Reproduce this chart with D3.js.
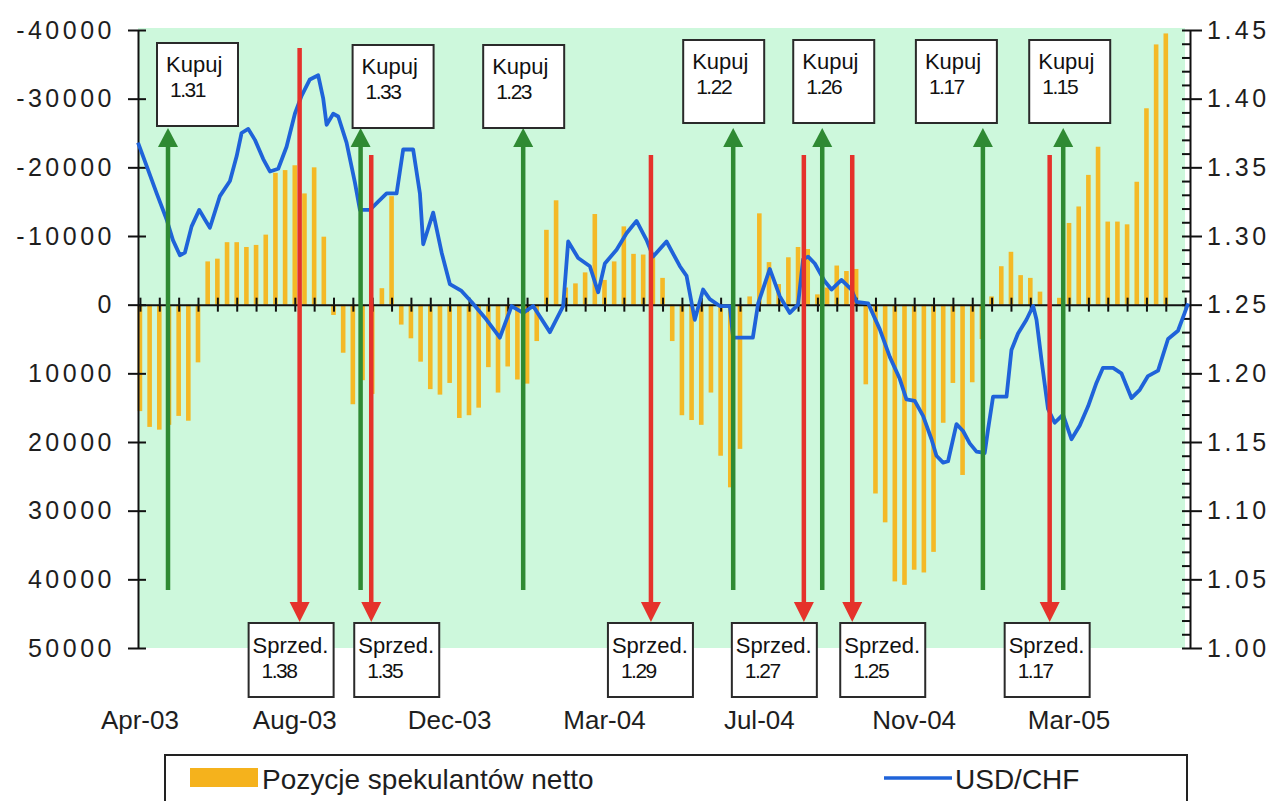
<!DOCTYPE html>
<html><head><meta charset="utf-8">
<script src="https://cdn.jsdelivr.net/npm/d3@7"></script>
<style>
body{margin:0;background:#fff}
svg{display:block}
text{font-family:"Liberation Sans",Arial,sans-serif}
</style>
</head><body>
<svg id="chart" width="1281" height="801"></svg>
<script>
// ---------------- DATA ----------------
// weekly COT report dates (Tuesdays) starting 29 Apr 2003
const categories = d3.range(107).map(i => d3.timeWeek.offset(new Date(2003, 3, 29), i));

// net speculative positions (left axis, inverted)
const netPositions = [
  15500,17800,18200,17500,16200,16900,8400,-6300,-6700,-9100,
  -9100,-8400,-8700,-10200,-19200,-19600,-20300,-16200,-20000,-9900,
  1500,7000,14500,11000,13000,-2400,-15800,2900,4900,8300,
  12300,13100,11400,16500,16100,15000,9100,12800,9000,10900,
  11500,5300,-10900,-15200,-2500,-3100,-4700,-13200,-3600,-6300,
  -11400,-7400,-7300,-7000,-3900,5300,16100,16800,17500,12800,
  22000,26600,21000,-1200,-13300,-6200,-3000,-6900,-8400,-8100,
  -1500,-2500,-5700,-4900,-5200,11600,27500,31700,40300,40800,
  38600,39000,36000,17200,11400,24800,11300,5000,-1200,-5600,
  -7700,-4300,-3900,-1900,0,-1000,-11900,-14300,-18900,-23000,
  -12100,-12100,-11700,-17900,-28600,-37900,-39500
];

// USD/CHF rate (right axis): position in weeks and value
const usdchfWeek = [
  -0.2,0.69,1.73,2.76,3.41,4.13,4.65,5.34,6.13,6.71,
  7.23,8.26,9.3,9.99,10.5,11.19,11.88,12.74,13.43,14.29,
  15.15,16.01,16.7,17.56,18.42,18.94,19.29,19.97,20.49,21.35,
  22.21,22.73,23.76,24.62,25.49,26.52,27.2,28.23,28.93,29.27,
  30.3,31.17,32.02,33.23,34.27,35.82,37.19,38.4,39.6,40.63,
  42.36,43.73,44.25,45.28,46.49,47.35,48.04,49.25,50.28,51.31,
  52.35,53.03,54.41,55.79,56.48,57.33,58.19,58.88,59.92,60.95,
  61.29,63.33,63.88,65.08,66.12,67.15,68.0,68.52,69.04,69.73,
  70.76,71.46,72.49,73.52,74.04,75.24,76.45,77.48,78.51,79.2,
  80.06,80.92,81.79,82.3,82.99,83.5,84.37,85.05,85.74,86.44,
  87.29,87.63,88.15,89.54,90.05,90.73,91.6,92.29,92.64,93.15,
  93.83,94.52,95.38,96.25,97.11,97.97,98.83,99.51,100.55,101.41,
  102.45,103.31,104.16,105.2,106.23,107.26,107.95,108.3
];
const usdchfRate = [
  1.368,1.351,1.331,1.312,1.297,1.286,1.288,1.307,1.319,1.312,
  1.306,1.329,1.340,1.358,1.375,1.378,1.370,1.356,1.347,1.349,
  1.365,1.389,1.402,1.414,1.417,1.400,1.381,1.389,1.387,1.368,
  1.339,1.319,1.319,1.325,1.331,1.331,1.363,1.363,1.331,1.294,
  1.317,1.288,1.265,1.260,1.252,1.239,1.226,1.249,1.244,1.249,
  1.230,1.249,1.296,1.284,1.278,1.259,1.280,1.290,1.302,1.311,
  1.297,1.285,1.296,1.278,1.271,1.239,1.261,1.254,1.249,1.249,
  1.226,1.226,1.251,1.276,1.256,1.244,1.250,1.283,1.285,1.280,
  1.267,1.261,1.268,1.261,1.252,1.251,1.232,1.212,1.196,1.181,
  1.180,1.169,1.152,1.140,1.135,1.136,1.163,1.158,1.149,1.143,
  1.142,1.159,1.183,1.183,1.217,1.229,1.239,1.249,1.239,1.210,
  1.174,1.164,1.170,1.152,1.162,1.176,1.193,1.204,1.204,1.200,
  1.182,1.188,1.198,1.202,1.225,1.231,1.244,1.251
];

// axis ticks
const leftTicks = [-40000,-30000,-20000,-10000,0,10000,20000,30000,40000,50000];
const rightTicks = [1.45,1.40,1.35,1.30,1.25,1.20,1.15,1.10,1.05,1.00];
const xTickLabels = ["Apr-03","Aug-03","Dec-03","Mar-04","Jul-04","Nov-04","Mar-05"];
const xTickLabelWeeks = [0,16,32,48,64,80,96];

// buy / sell signals (week position, price)
const buyWeeks = [2.9,22.8,39.6,61.3,70.5,87.1,95.4];
const buyPrices = ["1.31","1.33","1.23","1.22","1.26","1.17","1.15"];
const sellWeeks = [16.5,23.9,52.8,68.6,73.6,94.0];
const sellPrices = ["1.38","1.35","1.29","1.27","1.25","1.17"];

const seriesNames = ["Pozycje spekulantów netto","USD/CHF"];

// ---------------- LAYOUT ----------------
const buyBoxDx = [-11,-8,-40,-50,-29,-67,-34];
const buyBoxTop = [43,45,45,40,40,40,40];
const sellBoxDx = [-51,-17,-43,-72,-12,-45];
const sellTop = [48,155,155,155,155,155];

const svg = d3.select("#chart");
const W = 1281, H = 801;
svg.append("rect").attr("width", W).attr("height", H).attr("fill", "#fff");

const x = d3.scaleLinear().domain([-0.2, 108.5]).range([138, 1190]);
const yL = d3.scaleLinear().domain([-40000, 50000]).range([30, 648]);
const yR = d3.scaleLinear().domain([1.45, 1.00]).range([30, 648]);

// plot background
svg.append("rect").attr("x", 138).attr("y", 28).attr("width", 1047).attr("height", 620)
  .attr("fill", "#cdf8dc");

// bars
svg.append("g").selectAll("rect").data(netPositions).join("rect")
  .attr("x", (d, i) => x(i) - 2.3)
  .attr("width", 4.6)
  .attr("y", d => Math.min(yL(0), yL(d)))
  .attr("height", d => Math.abs(yL(d) - yL(0)))
  .attr("fill", "#f4b926");

// axes
const axisFont = g => g.selectAll("text")
  .attr("font-family", "'Liberation Sans', Arial, sans-serif")
  .attr("font-size", 25).attr("fill", "#1e1e1e").style("letter-spacing", "3.5px");

svg.append("g").attr("transform", "translate(138,0)")
  .call(d3.axisLeft(yL).tickValues(leftTicks).tickSize(10).tickPadding(13)
    .tickSizeOuter(0).tickFormat(d => String(d)))
  .call(axisFont);
svg.append("g").attr("transform", "translate(138,0)")
  .call(d3.axisRight(yL).tickValues(leftTicks).tickSize(8).tickSizeOuter(0).tickFormat(""))
  .call(g => g.select(".domain").remove());

svg.append("g").attr("transform", "translate(1190,0)")
  .call(d3.axisRight(yR).tickValues(rightTicks).tickSize(12).tickPadding(5)
    .tickSizeOuter(0).tickFormat(d3.format(".2f")))
  .call(axisFont);
svg.append("g").attr("transform", "translate(1190,0)")
  .call(d3.axisLeft(yR).tickValues(d3.range(100, 146).map(v => v / 100)).tickSize(8)
    .tickSizeOuter(0).tickFormat(""))
  .call(g => g.select(".domain").remove());

const evenWeeks = d3.range(0, 109, 2);
svg.append("g").attr("transform", `translate(0,${yL(0)})`)
  .call(d3.axisBottom(x).tickValues(evenWeeks).tickSize(7).tickSizeOuter(0).tickFormat(""));
svg.append("g").attr("transform", `translate(0,${yL(0)})`)
  .call(d3.axisTop(x).tickValues(evenWeeks).tickSize(7).tickSizeOuter(0).tickFormat(""))
  .call(g => g.select(".domain").remove());

svg.selectAll(".domain, .tick line").attr("stroke", "#111").attr("stroke-width", 2);

// x labels
svg.append("g").selectAll("text").data(xTickLabels).join("text")
  .attr("x", (d, i) => x(xTickLabelWeeks[i]))
  .attr("y", 729)
  .attr("text-anchor", "middle")
  .attr("font-size", 26).attr("fill", "#1e1e1e")
  .text(d => d);

// USD/CHF line
const lineData = usdchfWeek.map((w, i) => [w, usdchfRate[i]]);
svg.append("path").datum(lineData)
  .attr("fill", "none").attr("stroke", "#1f63d9").attr("stroke-width", 3.8)
  .attr("stroke-linejoin", "round")
  .attr("d", d3.line().x(d => x(d[0])).y(d => yR(d[1])));

// arrows
const gA = svg.append("g");
buyWeeks.forEach((w, i) => {
  const ax = x(w);
  gA.append("line").attr("x1", ax).attr("x2", ax).attr("y1", 590).attr("y2", 145)
    .attr("stroke", "#2f8a33").attr("stroke-width", 4.5);
  gA.append("path").attr("d", `M${ax - 10},147L${ax + 10},147L${ax},128Z`).attr("fill", "#2f8a33");
  const bx = ax + buyBoxDx[i], by = buyBoxTop[i];
  gA.append("rect").attr("x", bx).attr("y", by).attr("width", 81).attr("height", 83)
    .attr("fill", "#fff").attr("stroke", "#2a2a2a").attr("stroke-width", 2);
  gA.append("text").attr("x", bx + 9).attr("y", by + 29).attr("font-size", 22)
    .attr("fill", "#111").text("Kupuj");
  gA.append("text").attr("x", bx + 13).attr("y", by + 54).attr("font-size", 21)
    .style("letter-spacing", "-1.5px").attr("fill", "#111").text(buyPrices[i]);
});
sellWeeks.forEach((w, i) => {
  const ax = x(w);
  gA.append("line").attr("x1", ax).attr("x2", ax).attr("y1", sellTop[i]).attr("y2", 604)
    .attr("stroke", "#e5322b").attr("stroke-width", 4.5);
  gA.append("path").attr("d", `M${ax - 10},602L${ax + 10},602L${ax},622Z`).attr("fill", "#e5322b");
  const bx = ax + sellBoxDx[i], by = 623;
  gA.append("rect").attr("x", bx).attr("y", by).attr("width", 85).attr("height", 74)
    .attr("fill", "#fff").attr("stroke", "#2a2a2a").attr("stroke-width", 2);
  gA.append("text").attr("x", bx + 4).attr("y", by + 30).attr("font-size", 22)
    .attr("fill", "#111").text("Sprzed.");
  gA.append("text").attr("x", bx + 13).attr("y", by + 55).attr("font-size", 21)
    .style("letter-spacing", "-1.5px").attr("fill", "#111").text(sellPrices[i]);
});

// legend
const lg = svg.append("g");
lg.append("rect").attr("x", 165).attr("y", 755).attr("width", 1022).attr("height", 60)
  .attr("fill", "#fff").attr("stroke", "#222").attr("stroke-width", 2);
lg.append("rect").attr("x", 190).attr("y", 768).attr("width", 68).attr("height", 19).attr("fill", "#f5b21c");
lg.append("text").attr("x", 262).attr("y", 789).attr("font-size", 28).attr("fill", "#1e1e1e")
  .text(seriesNames[0]);
lg.append("line").attr("x1", 884).attr("x2", 952).attr("y1", 778).attr("y2", 778)
  .attr("stroke", "#1f63d9").attr("stroke-width", 3.5);
lg.append("text").attr("x", 955).attr("y", 789).attr("font-size", 28).attr("fill", "#1e1e1e")
  .text(seriesNames[1]);
</script>
</body></html>
